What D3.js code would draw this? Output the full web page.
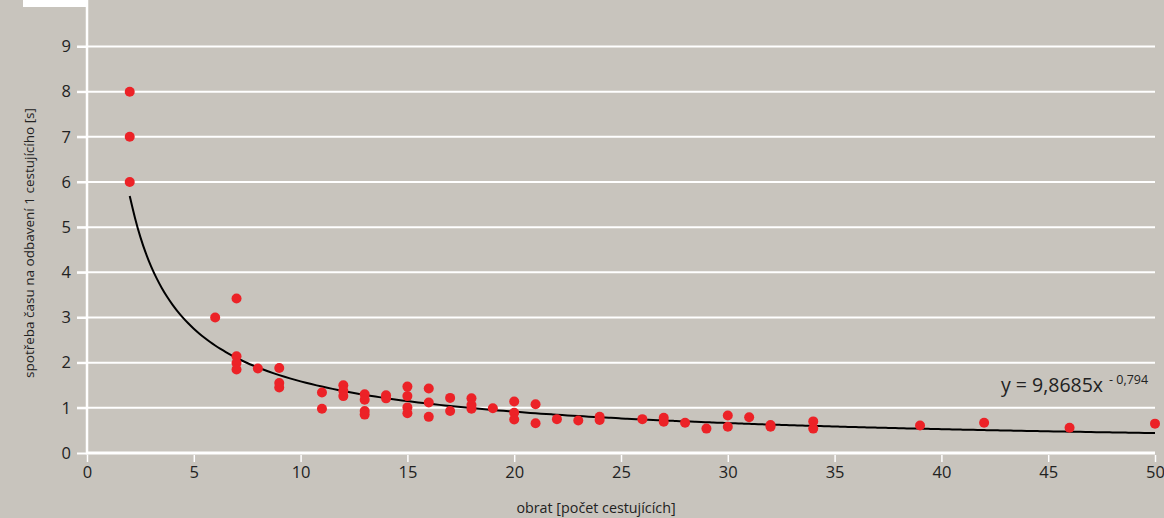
<!DOCTYPE html>
<html>
<head>
<meta charset="utf-8">
<script src="https://cdn.jsdelivr.net/npm/d3@7"></script>
<style>
  html, body { margin: 0; padding: 0; background: #c8c4bd; }
  svg { display: block; }
  text { font-family: "Open Sans", "Noto Sans", sans-serif; fill: #222; }
</style>
</head>
<body>
<svg id="chart" width="1164" height="518"></svg>
<script>
// Data
const obrat = [2,2,2, 6, 7,7,7,7, 8, 9,9,9, 11,11, 12,12,12, 13,13,13,13, 14,14,
  15,15,15,15, 16,16,16, 17,17, 18,18,18, 19, 20,20,20, 21,21, 22, 23, 24,24,
  26, 27,27, 28, 29, 30,30, 31, 32,32, 34,34, 39, 42, 46, 50];
const spotreba = [8,7,6, 3.0, 3.42,2.14,1.99,1.85, 1.87, 1.88,1.55,1.45, 1.34,0.98,
  1.5,1.38,1.26, 1.3,1.18,0.93,0.85, 1.28,1.21,
  1.47,1.26,1.01,0.88, 1.43,1.12,0.8, 1.22,0.93, 1.21,1.06,0.98, 0.99, 1.14,0.89,0.74,
  1.08,0.66, 0.75, 0.72, 0.8,0.73,
  0.75, 0.78,0.69, 0.67, 0.54, 0.83,0.58, 0.79, 0.62,0.58, 0.70,0.54, 0.61, 0.67, 0.56, 0.65];
const xTicks = [0,5,10,15,20,25,30,35,40,45,50];
const yTicks = [0,1,2,3,4,5,6,7,8,9];
const coefA = 9.8685, coefB = -0.794;
const curveX = d3.range(2, 50.001, 0.25);

const svg = d3.select("#chart");
const x = d3.scaleLinear().domain([0, 50]).range([87, 1155]);
const y = d3.scaleLinear().domain([0, 9]).range([453, 46.5]);

// white patch top-left
svg.append("rect").attr("x", 23).attr("y", 0).attr("width", 63).attr("height", 7).attr("fill", "#fff");

// gridlines
svg.append("g").selectAll("line").data(yTicks.filter(d => d > 0)).join("line")
  .attr("x1", 77).attr("x2", x(50)).attr("y1", d => y(d)).attr("y2", d => y(d))
  .attr("stroke", "#fff").attr("stroke-width", 2);

// y axis
const yAxis = svg.append("g").attr("transform", `translate(${x(0)},0)`)
  .call(d3.axisLeft(y).tickValues(yTicks).tickSize(10).tickPadding(6).tickFormat(d3.format("d")));
yAxis.select(".domain").remove();
yAxis.selectAll(".tick line").attr("stroke", "#fff").attr("stroke-width", 2);
yAxis.selectAll(".tick text").attr("font-size", 16.5).attr("fill", "#222")
  .style("font-family", '"Open Sans", sans-serif');

// x axis
const xAxis = svg.append("g").attr("transform", `translate(0,${y(0) + 2})`)
  .call(d3.axisBottom(x).tickValues(xTicks).tickSize(7).tickPadding(4).tickFormat(d3.format("d")));
xAxis.select(".domain").remove();
xAxis.selectAll(".tick line").attr("stroke", "#fff").attr("stroke-width", 1.5);
xAxis.selectAll(".tick text").attr("font-size", 16.5).attr("fill", "#222")
  .style("font-family", '"Open Sans", sans-serif');

// axis lines
svg.append("line").attr("x1", x(0)).attr("x2", x(0)).attr("y1", 0).attr("y2", y(0) + 1.5)
  .attr("stroke", "#fff").attr("stroke-width", 2.5);
svg.append("line").attr("x1", x(0)).attr("x2", x(50)).attr("y1", y(0)).attr("y2", y(0))
  .attr("stroke", "#fff").attr("stroke-width", 3);

// trend curve
const line = d3.line().x(d => x(d)).y(d => y(coefA * Math.pow(d, coefB))).curve(d3.curveBasis);
svg.append("path").datum(curveX).attr("d", line)
  .attr("fill", "none").attr("stroke", "#000").attr("stroke-width", 2);

// points
svg.append("g").selectAll("circle").data(obrat).join("circle")
  .attr("cx", d => x(d)).attr("cy", (d, i) => y(spotreba[i])).attr("r", 5)
  .attr("fill", "#ec2227");

// equation
svg.append("text").attr("x", 1001).attr("y", 392).attr("font-size", 19.5).text("y = 9,8685x");
svg.append("text").attr("x", 1109).attr("y", 384).attr("font-size", 12.5).text("- 0,794");

// axis titles
svg.append("text").attr("x", 596).attr("y", 513).attr("text-anchor", "middle")
  .attr("font-size", 14.3).text("obrat [počet cestujících]");
svg.append("text").attr("transform", "translate(34,243) rotate(-90)").attr("text-anchor", "middle")
  .attr("font-size", 13.5).text("spotřeba času na odbavení 1 cestujícího [s]");
</script>
</body>
</html>
